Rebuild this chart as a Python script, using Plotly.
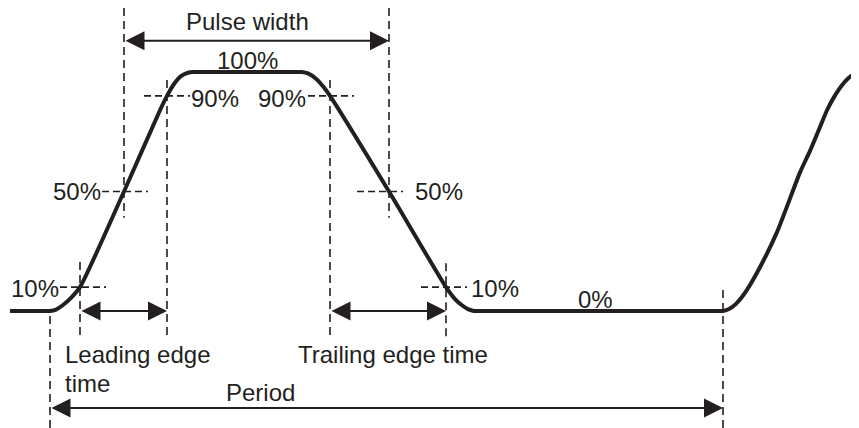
import plotly.graph_objects as go

# ---- data (time in arbitrary units, level in % of pulse amplitude) ----
wave_t = [10, 30, 44, 50, 56, 63, 71, 80, 124, 160, 167, 174, 181, 188, 193, 198, 210,
          285, 297, 302, 308, 316, 323, 330, 389, 446, 455, 462, 468, 474, 480, 495,
          700, 717, 723, 729, 736, 744, 757, 777, 800, 810, 820, 827, 834, 842, 850, 859]
wave_level = [0, 0, 0, 0, 0.6, 2.5, 5.5, 10, 50, 84, 90, 95, 98.3, 99.7, 100, 100, 100,
              100, 100, 100, 99.4, 97.2, 94, 90, 50, 10, 5, 2.4, 0.8, 0, 0, 0,
              0, 0, 0, 0.8, 3, 7, 16, 33, 58, 67, 77, 84, 89.5, 94.5, 98, 100]

# vertical guide lines: time, bottom level, top level
vguide_t = [50, 80, 124, 167, 330, 389, 446, 723]
vguide_lo = [-1, -11, 39, -11, -11, 39, -11.3, 10]
vguide_hi = [-49, 20.5, 126.8, 96.7, 96.7, 126.8, 20, -49]

# horizontal guide lines: level, start time, end time
hguide_level = [10, 50, 90, 90, 50, 10]
hguide_t0 = [60, 102, 144, 308, 357, 421]
hguide_t1 = [106, 148, 190, 354, 403, 467]

# arrows: start time, end time, level
arrow_names = ["Pulse width", "Leading edge time", "Trailing edge time", "Period"]
arrow_t0 = [124, 80, 330, 50]
arrow_t1 = [389, 167, 446, 723]
arrow_level = [113.1, 0, 0, -40.6]

# text labels: text, time, level, anchor
label_text = ["Pulse width", "100%", "90%", "90%", "50%", "50%", "10%", "10%", "0%",
              "Leading edge", "time", "Trailing edge time", "Period"]
label_t = [247, 247, 215, 282, 103, 413, 61, 469, 595, 63, 63, 296, 260]
label_level = [121, 105, 89, 89, 49.8, 49.8, 9.3, 9.6, 5, -18.2, -30.4, -18.2, -33.9]
label_anchor = ["center", "center", "center", "center", "right", "left", "right", "left",
                "center", "left", "left", "left", "center"]

INK = "#231f20"
FONT = dict(family="Liberation Sans, Arial, sans-serif", size=24, color=INK)

fig = go.Figure()

# vertical dashed guides
for t, lo, hi in zip(vguide_t, vguide_lo, vguide_hi):
    fig.add_trace(go.Scatter(x=[t, t], y=[hi, lo], mode="lines",
                             line=dict(color=INK, width=1.6, dash="8px,5px"),
                             hoverinfo="skip", showlegend=False))

# horizontal dash-dot guides
for lv, t0, t1 in zip(hguide_level, hguide_t0, hguide_t1):
    fig.add_trace(go.Scatter(x=[t0, t1], y=[lv, lv], mode="lines",
                             line=dict(color=INK, width=1.6, dash="7px,4px"),
                             hoverinfo="skip", showlegend=False))

# waveform
fig.add_trace(go.Scatter(x=wave_t, y=wave_level, mode="lines",
                         line=dict(color=INK, width=4, shape="spline", smoothing=0.6),
                         hoverinfo="skip", showlegend=False))

# double-headed arrows
for name, t0, t1, lv in zip(arrow_names, arrow_t0, arrow_t1, arrow_level):
    fig.add_annotation(x=t1, y=lv, ax=t0, ay=lv, xref="x", yref="y", axref="x", ayref="y",
                       text="", showarrow=True, arrowhead=2, startarrowhead=2,
                       arrowside="end+start", arrowsize=1.9, startarrowsize=1.9,
                       arrowwidth=2, arrowcolor=INK, standoff=0, startstandoff=0)

# labels
for txt, t, lv, anc in zip(label_text, label_t, label_level, label_anchor):
    fig.add_annotation(x=t, y=lv, xref="x", yref="y", text=txt, showarrow=False,
                       xanchor=anc, yanchor="middle", font=FONT)

# the page body has an 8px margin; the figure is sized and ranged so that the
# drawing lands on the same window pixels as the reference
fig.update_xaxes(range=[8, 859], visible=False, fixedrange=True)
fig.update_yaxes(range=[-48.95, 126.78], visible=False, fixedrange=True)
fig.update_layout(width=851, height=420, margin=dict(l=0, r=0, t=0, b=0),
                  paper_bgcolor="white", plot_bgcolor="white", showlegend=False)

fig.write_html("out.html")
